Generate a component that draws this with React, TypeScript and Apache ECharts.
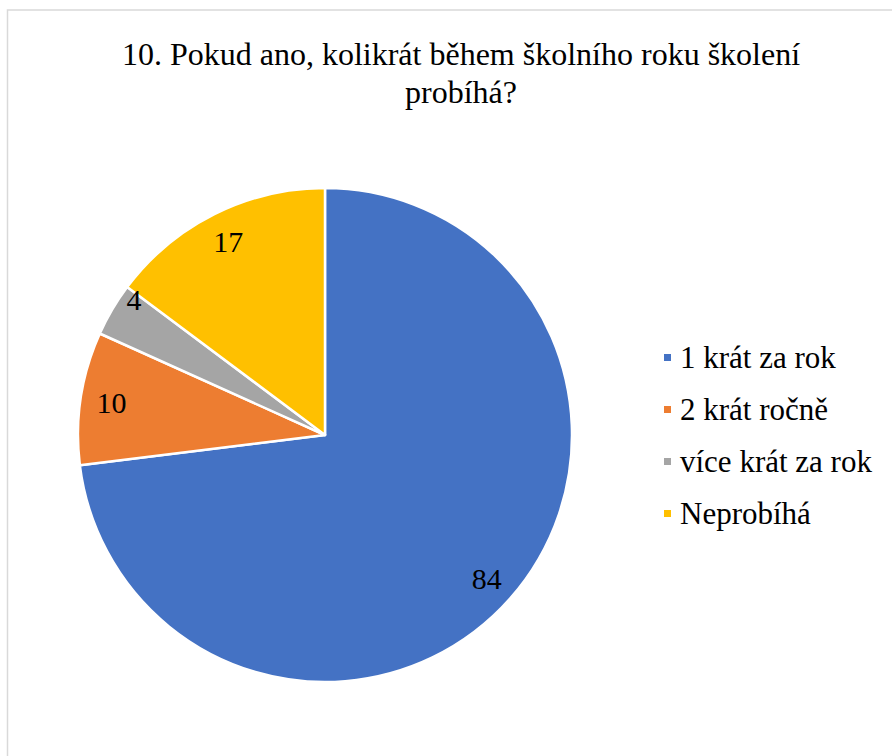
import React, { useEffect, useRef } from "react";
import * as echarts from "echarts";

const categories = ["1 krát za rok", "2 krát ročně", "více krát za rok", "Neprobíhá"];
const values = [84, 10, 4, 17];
const colors = ["#4472C4", "#ED7D31", "#A5A5A5", "#FFC000"];
const titleText = "10. Pokud ano, kolikrát během školního roku školení\nprobíhá?";

const FONT = "Liberation Serif";

export default function App() {
  const ref = useRef<HTMLDivElement>(null);
  useEffect(() => {
    if (!ref.current) return;
    const chart = echarts.init(ref.current, null, { renderer: "svg" });
    const data = categories.map((name, i) => ({
      name,
      value: values[i],
      itemStyle: { color: colors[i] },
    }));
    // the small slice's label sits a little further out, as in the reference
    const labelData = categories.map((name, i) => ({
      name,
      value: values[i],
      ...(i === 2 ? { label: { offset: [-5, -26] } } : {}),
    }));
    chart.setOption({
      animation: false,
      backgroundColor: "#ffffff",
      textStyle: { fontFamily: FONT },
      title: {
        text: titleText,
        left: 456,
        top: 30,
        textAlign: "center",
        textStyle: {
          fontFamily: FONT,
          fontSize: 32,
          fontWeight: "normal",
          color: "#000000",
          lineHeight: 38,
        },
      },
      graphic: [
        {
          type: "rect",
          shape: { x: 7.5, y: 10, width: 1000, height: 1000 },
          style: { fill: "none", stroke: "#d9d9d9", lineWidth: 1.5 },
          silent: true,
        },
      ],
      legend: {
        orient: "vertical",
        left: 657,
        top: 337,
        icon: "rect",
        itemWidth: 9,
        itemHeight: 9,
        itemGap: 21,
        data: categories,
        textStyle: {
          fontFamily: FONT,
          fontSize: 31,
          color: "#000000",
          lineHeight: 31,
          padding: [0, 0, 0, 3],
        },
      },
      series: [
        {
          type: "pie",
          center: [325, 435],
          radius: 247,
          startAngle: 90,
          clockwise: true,
          data,
          label: { show: false },
          labelLine: { show: false },
          itemStyle: { borderColor: "#ffffff", borderWidth: 2.5 },
          emphasis: { disabled: true },
        },
        {
          type: "pie",
          center: [325, 435],
          radius: [180, 246],
          startAngle: 90,
          clockwise: true,
          silent: true,
          data: labelData,
          itemStyle: { color: "rgba(0,0,0,0)" },
          label: {
            show: true,
            position: "inside",
            formatter: "{c}",
            fontFamily: FONT,
            fontSize: 30,
            color: "#000000",
          },
          labelLine: { show: false },
          emphasis: { disabled: true },
          legendHoverLink: false,
        },
      ],
    });
    return () => chart.dispose();
  }, []);
  return (
    <div
      ref={ref}
      style={{ position: "absolute", left: 0, top: 0, width: 892, height: 756 }}
    />
  );
}
